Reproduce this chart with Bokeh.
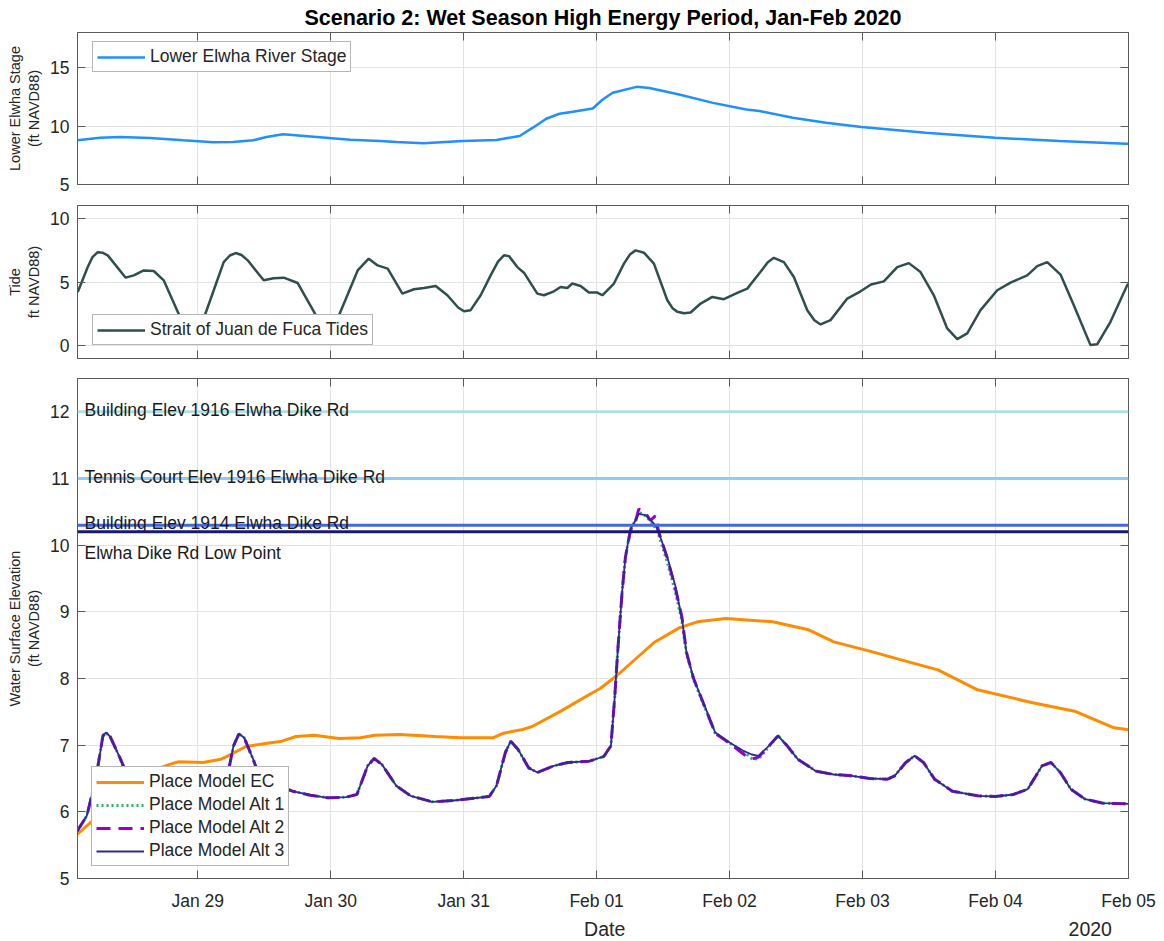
import pandas as pd
from bokeh.plotting import figure
from bokeh.models import (Range1d, FixedTicker, DatetimeTickFormatter, DatetimeAxis,
                          LinearAxis, Span, Label, CustomJSTickFormatter)
from bokeh.layouts import column
from bokeh.embed import file_html
from bokeh.resources import INLINE

# ---------------- data ----------------
t0 = "2020-01-28 00:00"          # hours below are counted from this time
x_start_hours = 2.3
x_end_hours = 192.0
x_tick_days = ["2020-01-29", "2020-01-30", "2020-01-31", "2020-02-01",
               "2020-02-02", "2020-02-03", "2020-02-04", "2020-02-05"]
# second row under the date ticks: axis title and year marker
under_texts = ["Date", "2020"]
under_hours = [97.45, 185.1]

stage_hours = [2.29, 6.38, 9.99, 15.4, 21.4, 26.8, 30.4, 34.0, 36.4, 39.4,
               45.5, 51.5, 56.9, 59.9, 64.7, 71.9, 77.9, 82.1, 84.5, 86.9,
               89.3, 91.7, 95.3, 97.1, 98.9, 103.2, 105.5, 110.9, 117.0, 123.0,
               125.4, 131.4, 137.4, 143.8, 155.4, 167.9, 179.5, 191.5, 192.0]
stage_ft = [8.78, 9.00, 9.06, 8.98, 8.78, 8.61, 8.64, 8.78, 9.06, 9.29,
            9.06, 8.83, 8.72, 8.64, 8.53, 8.72, 8.81, 9.15, 9.86, 10.62,
            11.05, 11.22, 11.50, 12.27, 12.84, 13.35, 13.26, 12.70, 11.98, 11.42,
            11.28, 10.71, 10.28, 9.91, 9.43, 9.00, 8.72, 8.49, 8.48]

tide_hours = [2.35, 4.15, 5.0, 5.95, 6.8, 7.76, 11.0, 12.45, 14.26, 16.06,
              17.86, 20.93, 22.9, 25.08, 26.89, 28.69, 29.8, 30.86, 31.9, 33.02,
              35.91, 37.7, 39.52, 42.05, 45.65, 47.46, 49.26, 52.87, 54.86, 56.48,
              58.29, 60.94, 63.03, 64.84, 66.95, 69.06, 71.0, 72.05, 73.26, 75.07,
              76.87, 78.2, 79.27, 80.18, 81.69, 82.88, 85.3, 86.49, 88.29, 89.5,
              90.71, 91.61, 93.11, 94.61, 96.13, 97.03, 99.12, 100.93, 102.0, 103.04,
              104.54, 106.34, 108.76, 109.7, 110.56, 111.8, 112.96, 114.77, 116.88, 118.97,
              121.39, 123.19, 125.59, 126.9, 127.99, 129.8, 131.6, 134.02, 135.3, 136.42,
              138.22, 141.24, 143.64, 145.53, 147.84, 150.26, 152.35, 154.46, 156.86, 159.28,
              161.09, 162.89, 165.29, 168.31, 170.71, 173.72, 175.53, 177.33, 179.73, 182.13,
              185.14, 186.35, 188.75, 191.76, 192.0]
tide_ft = [4.22, 6.17, 6.95, 7.34, 7.30, 7.09, 5.34, 5.52, 5.91, 5.86,
           5.13, 2.14, 0.70, 2.14, 4.35, 6.56, 7.08, 7.27, 7.12, 6.70,
           5.13, 5.30, 5.34, 4.92, 2.14, 1.00, 2.14, 5.91, 6.83, 6.30,
           6.05, 4.09, 4.43, 4.53, 4.69, 3.96, 3.00, 2.71, 2.79, 3.96,
           5.52, 6.60, 7.09, 7.03, 6.17, 5.73, 4.09, 3.96, 4.27, 4.61,
           4.53, 4.88, 4.69, 4.17, 4.17, 3.96, 4.88, 6.44, 7.15, 7.48,
           7.30, 6.44, 3.57, 2.95, 2.66, 2.55, 2.61, 3.31, 3.83, 3.65,
           4.14, 4.48, 5.80, 6.55, 6.90, 6.56, 5.39, 2.79, 2.00, 1.67,
           2.01, 3.70, 4.27, 4.80, 5.05, 6.17, 6.48, 5.78, 3.96, 1.36,
           0.52, 0.97, 2.79, 4.35, 4.95, 5.52, 6.25, 6.56, 5.58, 3.18,
           0.05, 0.11, 1.88, 4.74, 4.85]

ec_hours = [2.24, 4.95, 10.0, 15.28, 18.51, 20.45, 24.97, 28.2, 29.49, 32.72,
            36.59, 39.17, 41.76, 44.99, 49.5, 53.38, 55.96, 60.48, 66.94, 71.46,
            77.27, 79.21, 82.44, 84.37, 89.54, 94.7, 96.65, 99.89, 106.38, 110.9,
            114.16, 119.35, 127.78, 134.27, 138.81, 145.3, 151.78, 157.62, 164.75, 174.49,
            182.27, 189.4, 192.0]
ec_ft = [5.66, 5.86, 6.30, 6.59, 6.70, 6.75, 6.74, 6.79, 6.84, 6.98,
         7.03, 7.06, 7.13, 7.15, 7.10, 7.11, 7.15, 7.16, 7.13, 7.11,
         7.11, 7.18, 7.23, 7.28, 7.51, 7.76, 7.85, 8.06, 8.54, 8.76,
         8.85, 8.90, 8.85, 8.73, 8.55, 8.41, 8.26, 8.13, 7.83, 7.64,
         7.51, 7.26, 7.23]

alt_hours = [2.24, 3.98, 5.6, 6.89, 7.41, 8.18, 9.8, 11.09, 13.0, 16.0,
             20.0, 24.0, 27.0, 28.5, 29.49, 30.46, 31.43, 32.39, 34.0, 35.3,
             37.88, 41.1, 44.34, 47.57, 50.8, 52.73, 54.67, 55.83, 57.25, 59.84,
             62.42, 66.29, 70.17, 73.4, 76.62, 77.92, 79.53, 80.5, 81.79, 83.73,
             85.34, 88.25, 90.83, 94.7, 97.29, 98.58, 99.25, 99.8, 100.6, 101.2,
             102.1, 103.0, 103.6, 104.8, 105.7, 106.6, 107.2, 108.7, 110.2, 111.4,
             112.2, 113.5, 115.5, 117.4, 120.0, 122.6, 124.0, 125.2, 127.1, 128.76,
             130.4, 132.3, 135.6, 138.8, 142.05, 145.3, 148.5, 149.8, 151.8, 153.4,
             155.0, 157.0, 160.2, 164.75, 168.0, 171.2, 173.8, 176.4, 178.0, 179.7,
             181.6, 184.2, 187.4, 192.0]
alt1_ft = [5.71, 5.94, 6.49, 7.14, 7.19, 7.13, 6.84, 6.59, 6.48, 6.42,
           6.38, 6.37, 6.42, 6.52, 6.59, 6.99, 7.17, 7.11, 6.79, 6.49,
           6.41, 6.31, 6.25, 6.21, 6.22, 6.26, 6.69, 6.80, 6.71, 6.39,
           6.24, 6.15, 6.17, 6.20, 6.23, 6.39, 6.89, 7.06, 6.94, 6.66,
           6.59, 6.69, 6.74, 6.76, 6.83, 6.99, 7.70, 8.40, 9.30, 9.82,
           10.24, 10.37, 10.50, 10.44, 10.36, 10.26, 10.15, 9.76, 9.30, 8.86,
           8.38, 7.98, 7.57, 7.18, 7.03, 6.90, 6.80, 6.79, 6.98, 7.14,
           6.99, 6.79, 6.61, 6.56, 6.54, 6.50, 6.49, 6.54, 6.74, 6.84,
           6.74, 6.49, 6.31, 6.24, 6.23, 6.26, 6.34, 6.69, 6.74, 6.59,
           6.34, 6.19, 6.13, 6.12]
alt2_ft = [5.71, 5.94, 6.49, 7.14, 7.19, 7.13, 6.84, 6.59, 6.48, 6.42,
           6.38, 6.37, 6.42, 6.52, 6.59, 6.99, 7.17, 7.11, 6.79, 6.49,
           6.41, 6.31, 6.25, 6.21, 6.22, 6.26, 6.69, 6.80, 6.71, 6.39,
           6.24, 6.15, 6.17, 6.20, 6.23, 6.39, 6.89, 7.06, 6.94, 6.66,
           6.59, 6.69, 6.74, 6.76, 6.83, 6.99, 7.70, 8.40, 9.30, 9.82,
           10.22, 10.35, 10.54, 10.49, 10.37, 10.44, 10.20, 9.82, 9.36, 8.92,
           8.40, 8.00, 7.58, 7.18, 7.03, 6.86, 6.79, 6.82, 6.99, 7.14,
           6.99, 6.79, 6.61, 6.56, 6.54, 6.50, 6.49, 6.54, 6.74, 6.84,
           6.74, 6.49, 6.31, 6.24, 6.23, 6.26, 6.34, 6.69, 6.74, 6.59,
           6.34, 6.19, 6.13, 6.12]
alt3_ft = [5.71, 5.94, 6.49, 7.14, 7.19, 7.13, 6.84, 6.59, 6.48, 6.42,
           6.38, 6.37, 6.42, 6.52, 6.59, 6.99, 7.17, 7.11, 6.79, 6.49,
           6.41, 6.31, 6.25, 6.21, 6.22, 6.26, 6.69, 6.80, 6.71, 6.39,
           6.24, 6.15, 6.17, 6.20, 6.23, 6.39, 6.89, 7.06, 6.94, 6.66,
           6.59, 6.69, 6.74, 6.76, 6.83, 6.99, 7.70, 8.40, 9.30, 9.82,
           10.24, 10.37, 10.47, 10.45, 10.38, 10.30, 10.19, 9.84, 9.39, 8.90,
           8.40, 8.00, 7.59, 7.19, 7.04, 6.91, 6.86, 6.84, 6.99, 7.14,
           6.99, 6.79, 6.61, 6.56, 6.54, 6.50, 6.49, 6.54, 6.74, 6.84,
           6.74, 6.49, 6.31, 6.24, 6.23, 6.26, 6.34, 6.69, 6.74, 6.59,
           6.34, 6.19, 6.13, 6.12]

ref_levels = [12.0, 11.0, 10.3, 10.2]
ref_names = ["Building Elev 1916 Elwha Dike Rd",
             "Tennis Court Elev 1916 Elwha Dike Rd",
             "Building Elev 1914 Elwha Dike Rd",
             "Elwha Dike Rd Low Point"]

stage_yticks = [5, 10, 15]
tide_yticks = [0, 5, 10]
wse_yticks = [5, 6, 7, 8, 9, 10, 11, 12]

# ---------------- styles ----------------
FONT = "Liberation Sans"
TXT = "#262626"
AXC = "#5a5a5a"
GRID = "#e3e3e3"
ref_colors = ["#b0e0e6", "#87cefa", "#4169e1", "#191970"]
ref_label_dy = [2, 2, 2, -21]
ref_label_base = ["alphabetic", "alphabetic", "alphabetic", "middle"]

base = pd.Timestamp(t0)


def to_time(hours):
    return base + pd.to_timedelta(hours, unit="h")


def ms(ts):
    return (pd.Timestamp(ts) - pd.Timestamp("1970-01-01")).total_seconds() * 1000.0


tick_ms = [ms(d) for d in x_tick_days]
start_ms = ms(to_time(x_start_hours))
end_ms = ms(to_time(x_end_hours))
xr = Range1d(start=start_ms, end=end_ms)

fmt_str = "%b %d"


def make_fmt():
    return DatetimeTickFormatter(microseconds=fmt_str, milliseconds=fmt_str, seconds=fmt_str,
                                 minsec=fmt_str, minutes=fmt_str, hourmin=fmt_str, hours=fmt_str,
                                 days=fmt_str, months=fmt_str, years=fmt_str)


def style_axis(ax):
    ax.major_label_text_font = FONT
    ax.major_label_text_font_size = "17.5px"
    ax.major_label_text_color = TXT
    ax.axis_line_color = AXC
    ax.axis_line_width = 1
    ax.major_tick_line_color = AXC
    ax.major_tick_in = 8
    ax.major_tick_out = 0
    ax.minor_tick_line_color = None
    ax.axis_label_text_font = FONT
    ax.axis_label_text_font_style = "normal"
    ax.axis_label_text_color = TXT


def hide_labels(ax):
    ax.major_label_text_color = None
    ax.major_label_text_font_size = "1px"
    ax.major_label_standoff = 0


def panel(fh, yr, yticks, ylabel, btop, bbot, show_x):
    p = figure(x_axis_type="datetime", x_range=xr, y_range=Range1d(*yr),
               frame_width=1051, frame_height=fh,
               min_border_left=77, min_border_right=30,
               min_border_top=btop, min_border_bottom=bbot,
               output_backend="svg", toolbar_location=None)
    p.outline_line_color = "#8a8a8a"
    p.background_fill_color = "white"
    p.border_fill_color = "white"
    xa = p.below[0]
    ya = p.left[0]
    style_axis(xa)
    style_axis(ya)
    xa.ticker = FixedTicker(ticks=tick_ms)
    xa.formatter = make_fmt()
    ya.ticker = FixedTicker(ticks=yticks)
    ya.axis_label = ylabel
    ya.axis_label_text_font_size = "14.5px"
    ya.major_label_standoff = 8
    ya.axis_label_standoff = 5
    if not show_x:
        hide_labels(xa)
    p.xgrid.ticker = FixedTicker(ticks=tick_ms)
    p.ygrid.ticker = FixedTicker(ticks=yticks)
    p.xgrid.grid_line_color = GRID
    p.ygrid.grid_line_color = GRID

    top = DatetimeAxis(ticker=FixedTicker(ticks=tick_ms), formatter=make_fmt())
    style_axis(top)
    hide_labels(top)
    p.add_layout(top, "above")
    right = LinearAxis(ticker=FixedTicker(ticks=yticks))
    style_axis(right)
    hide_labels(right)
    p.add_layout(right, "right")
    return p


def style_legend(p, loc, rows_h=20, spacing=2):
    lg = p.legend[0]
    lg.location = loc
    lg.margin = 0
    lg.padding = 4
    lg.spacing = spacing
    lg.glyph_width = 48
    lg.glyph_height = rows_h
    lg.label_height = rows_h
    lg.label_standoff = 5
    lg.label_text_font = FONT
    lg.label_text_font_size = "17.5px"
    lg.label_text_color = TXT
    lg.border_line_color = "#6e6e6e"
    lg.border_line_width = 1
    lg.background_fill_color = "white"
    lg.background_fill_alpha = 1.0


# ---- panel 1: river stage ----
p1 = panel(152, (5, 18), stage_yticks, "Lower Elwha Stage\n(ft NAVD88)", 32, 10, False)
p1.title.text = "Scenario 2: Wet Season High Energy Period, Jan-Feb 2020"
p1.title.align = "center"
p1.title.text_font = FONT
p1.title.text_font_size = "21.5px"
p1.title.text_font_style = "bold"
p1.title.text_color = "#000000"
p1.title.standoff = 6
p1.line(to_time(stage_hours), stage_ft, line_color="#1e90ff", line_width=2.5,
        legend_label="Lower Elwha River Stage")
style_legend(p1, (15, 112))

# ---- panel 2: tide ----
p2 = panel(153, (-1, 11), tide_yticks, "Tide\nft NAVD88)", 11, 10, False)
p2.line(to_time(tide_hours), tide_ft, line_color="#2f4f4f", line_width=2.5,
        legend_label="Strait of Juan de Fuca Tides")
style_legend(p2, (15, 13))

# ---- panel 3: water surface elevation ----
p3 = panel(500, (5, 12.5), wse_yticks, "Water Surface Elevation\n(ft NAVD88)", 10, 62, True)
xb = p3.below[0]
xb.major_label_standoff = 12

# a second, line-less axis row below the dates carries "Date" and the year
under_ms = [ms(to_time(h)) for h in under_hours]
under_axis = LinearAxis(
    ticker=FixedTicker(ticks=under_ms),
    formatter=CustomJSTickFormatter(args=dict(labels=under_texts), code="return labels[index];"),
)
under_axis.axis_line_color = None
under_axis.major_tick_line_color = None
under_axis.minor_tick_line_color = None
under_axis.major_tick_in = 0
under_axis.major_tick_out = 0
under_axis.major_label_standoff = 4
under_axis.major_label_text_font = FONT
under_axis.major_label_text_font_size = "19.5px"
under_axis.major_label_text_color = TXT
p3.add_layout(under_axis, "below")

for lvl, name, col, dy, bl in zip(ref_levels, ref_names, ref_colors, ref_label_dy, ref_label_base):
    p3.add_layout(Span(location=lvl, dimension="width", line_color=col, line_width=3))
    p3.add_layout(Label(x=start_ms, y=lvl, x_offset=7, y_offset=dy, text=name,
                        text_font=FONT, text_font_size="17.5px", text_color="#1a1a1a",
                        text_baseline=bl, text_align="left"))

alt_t = to_time(alt_hours)
p3.line(to_time(ec_hours), ec_ft, line_color="#ff8c00", line_width=3,
        legend_label="Place Model EC")
p3.line(alt_t, alt1_ft, line_color="#2bb36b", line_width=3, line_dash="2 3",
        legend_label="Place Model Alt 1")
p3.line(alt_t, alt2_ft, line_color="#9400d3", line_width=3, line_dash="14 8",
        legend_label="Place Model Alt 2")
p3.line(alt_t, alt3_ft, line_color="#33298f", line_width=1.8,
        legend_label="Place Model Alt 3")
style_legend(p3, (14, 12))

layout = column(p1, p2, p3, spacing=0)
open("out.html", "w").write(file_html(layout, INLINE))
